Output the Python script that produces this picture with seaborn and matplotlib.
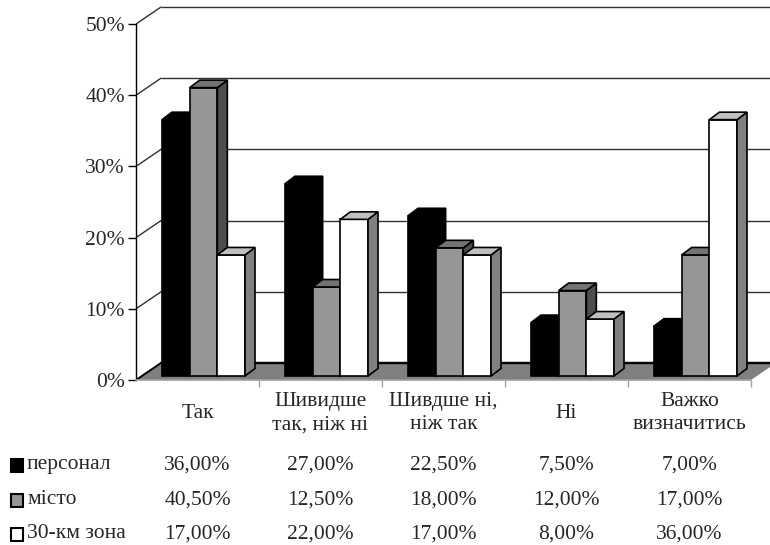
import numpy as np
import pandas as pd
import matplotlib
matplotlib.use('Agg')
import matplotlib.pyplot as plt
import matplotlib.transforms as mtransforms
from matplotlib.patches import Polygon, Rectangle
import seaborn as sb

# data
categories = ['Так', 'Шивидше\nтак, ніж ні', 'Шивдше ні,\nніж так', 'Ні', 'Важко\nвизначитись']
series = ['персонал', 'місто', '30-км зона']
personal = [36.0, 27.0, 22.5, 7.5, 7.0]
city = [40.5, 12.5, 18.0, 12.0, 17.0]
zone = [17.0, 22.0, 17.0, 8.0, 36.0]
y_ticks = [0, 10, 20, 30, 40, 50]

front_colors = ['#000000', '#969696', '#ffffff']
side_colors = ['#000000', '#4d4d4d', '#808080']
top_colors = ['#000000', '#737373', '#c0c0c0']

df = pd.DataFrame({
    'category': categories * 3,
    'series': [s for s in series for _ in categories],
    'value': personal + city + zone,
})

sb.set_style('white')
plt.rcParams['font.family'] = ['Liberation Serif', 'DejaVu Serif']
FS = 15.5

W, H = 770, 545
fig = plt.figure(figsize=(W / 100, H / 100), dpi=100)

# axes placed in pixel terms: front 0% at y=380, 50% at y=24, left at x=136
px_per_cat = 123.0
px_per_pct = 7.12
ax = fig.add_axes([136 / W, (H - 380) / H, (W - 136) / W, (380 - 6) / H])

sb.barplot(data=df, x='category', y='value', hue='series', palette=front_colors,
           hue_order=series, order=categories, width=0.675, saturation=1,
           edgecolor='black', linewidth=1.2, legend=False, ax=ax)

xmin = -0.5
xmax = xmin + (W - 136) / px_per_cat
ax.set_xlim(xmin, xmax)
ax.set_ylim(0, 374 / px_per_pct)

# depth of the 3d box and of a single bar
DX, DY = 25 / px_per_cat, 17 / px_per_pct
SX, SY = 6 / px_per_cat, 4 / px_per_pct
BDX, BDY = 10 / px_per_cat, 7.5 / px_per_pct

# back wall gridlines + side wall diagonals
for t in y_ticks:
    ax.plot([xmin + DX, xmax], [t + DY, t + DY], color='#303030' if t else 'black',
            lw=1.0 if t else 1.6, zorder=1.5, solid_capstyle='butt')
    ax.plot([xmin, xmin + DX], [t, t + DY], color='#303030' if t else 'black',
            lw=1.0 if t else 1.4, zorder=1.5)

# floor
ncat = len(categories)
floor = Polygon([(xmin, 0), (xmin + ncat, 0), (xmin + ncat + DX, DY), (xmin + DX, DY)],
                closed=True, facecolor='#808080', edgecolor='none', zorder=1)
ax.add_patch(floor)
ax.plot([xmin + DX, xmax], [DY, DY], color='black', lw=1.6, zorder=1.6)

# 3d faces for every bar
for k, cont in enumerate(ax.containers):
    for p in cont:
        p.set_x(p.get_x() + SX)
        p.set_y(SY)
        p.set_zorder(3 + k)
        x0 = p.get_x()
        x1 = x0 + p.get_width()
        y0 = SY
        y1 = SY + p.get_height()
        side = Polygon([(x1, y0), (x1 + BDX, y0 + BDY), (x1 + BDX, y1 + BDY), (x1, y1)],
                       closed=True, facecolor=side_colors[k], edgecolor='black',
                       lw=1.2, zorder=3 + k)
        top = Polygon([(x0, y1), (x0 + BDX, y1 + BDY), (x1 + BDX, y1 + BDY), (x1, y1)],
                      closed=True, facecolor=top_colors[k], edgecolor='black',
                      lw=1.2, zorder=3 + k)
        ax.add_patch(side)
        ax.add_patch(top)

# axes lines
for s in ['top', 'right']:
    ax.spines[s].set_visible(False)
ax.spines['left'].set_bounds(0, 50)
ax.spines['left'].set_color('black')
ax.spines['left'].set_linewidth(1.0)
ax.spines['bottom'].set_bounds(xmin, xmin + ncat)
ax.spines['bottom'].set_color('#a0a0a0')
ax.spines['bottom'].set_linewidth(1.2)

ax.set_yticks(y_ticks)
ax.set_yticklabels([f'{t}%' for t in y_ticks], fontsize=FS)
ax.set_xticks([xmin + i for i in range(1, ncat + 1)])
ax.set_xticklabels([])
ax.tick_params(axis='y', direction='out', length=6, width=1, color='black', pad=2, left=True)
ax.tick_params(axis='x', direction='out', length=5, width=1, color='#a0a0a0', bottom=True)
ax.set_xlabel('')
ax.set_ylabel('')

# data table under the chart
trans = mtransforms.blended_transform_factory(ax.transData, fig.transFigure)
for i, cat in enumerate(categories):
    ax.text(i, (H - 413) / H, cat, transform=trans, ha='center', va='center',
            fontsize=FS, linespacing=1.3, multialignment='center', clip_on=False)

row_y = [465, 500, 534]
values = [personal, city, zone]
for k, name in enumerate(series):
    yy = (H - row_y[k]) / H
    fig.patches.append(Rectangle((10.5 / W, (H - row_y[k] - 6.5) / H), 12.5 / W, 13 / H,
                                 transform=fig.transFigure, facecolor=front_colors[k],
                                 edgecolor='black', lw=1.5))
    fig.text(27 / W, yy, name, ha='left', va='center', fontsize=FS)
    for i, v in enumerate(values[k]):
        ax.text(i, yy, f'{v:.2f}%'.replace('.', ','), transform=trans,
                ha='center', va='center', fontsize=FS, clip_on=False)

fig.savefig('out.png', dpi=100)
